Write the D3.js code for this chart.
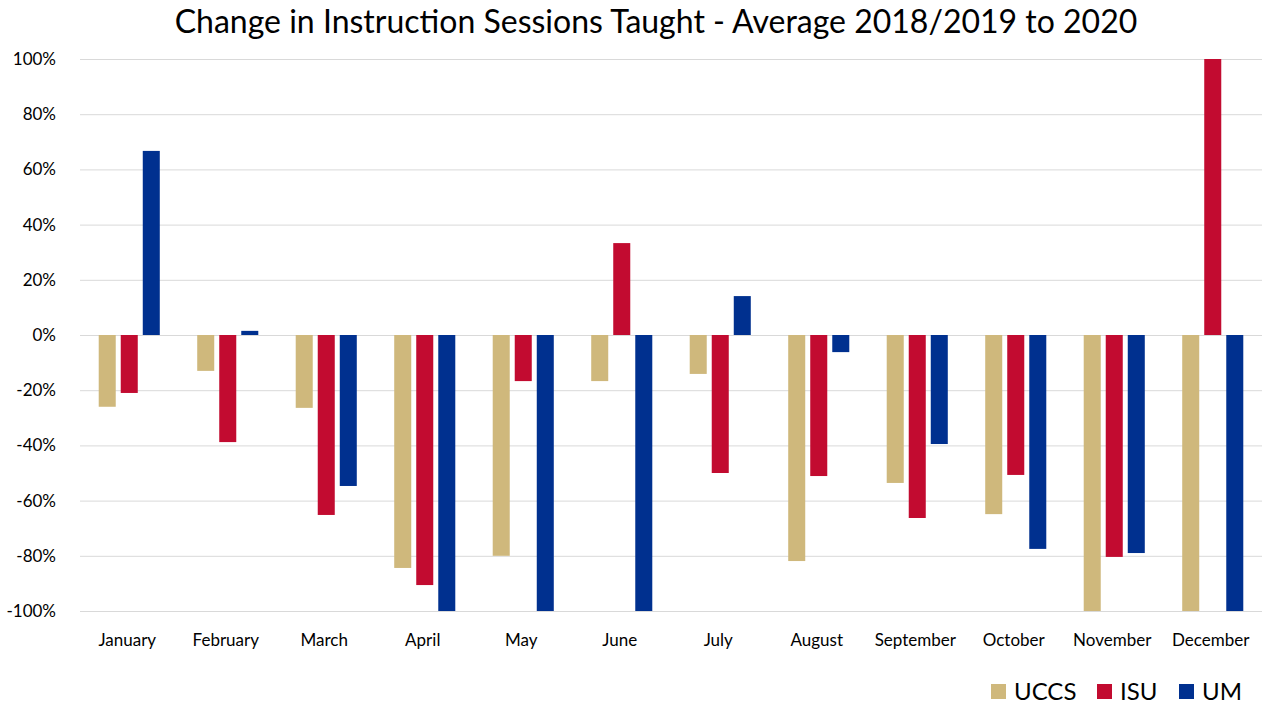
<!DOCTYPE html>
<html>
<head>
<meta charset="utf-8">
<title>Change in Instruction Sessions Taught</title>
<script src="https://d3js.org/d3.v7.min.js"></script>
<style>
  body { margin: 0; background: #fff; }
  svg text { font-family: Lato, "Open Sans", sans-serif; fill: #000; }
  .tick text { font-size: 17px; fill: #000; }
  .grid line { stroke: #d9d9d9; stroke-width: 1px; }
</style>
</head>
<body>
<svg id="chart" width="1266" height="704"></svg>
<script>
var months = ["January","February","March","April","May","June","July","August","September","October","November","December"];
var seriesNames = ["UCCS","ISU","UM"];
var uccs = [-26, -13, -26.4, -84.4, -80, -16.7, -14.1, -81.9, -53.6, -64.9, -100, -100];
var isu  = [-21, -38.8, -65.2, -90.6, -16.7, 33.3, -50, -51.1, -66.3, -50.7, -80.4, 100];
var um   = [66.7, 1.5, -54.7, -100, -100, -100, 14.1, -6.2, -39.5, -77.5, -79, -100];
var yTicks = [100, 80, 60, 40, 20, 0, -20, -40, -60, -80, -100];
var colors = ["#cfb87c", "#c20b30", "#00308f"];

var svg = d3.select("#chart");
var plotLeft = 80, plotRight = 1262, plotTop = 59, plotBottom = 611;

var x = d3.scaleBand().domain(months).range([plotLeft, plotRight]).paddingInner(0.38).paddingOuter(0.19);
var xs = d3.scaleBand().domain(seriesNames).range([0, x.bandwidth()]).paddingInner(5/22).paddingOuter(0);
var y = d3.scaleLinear().domain([-100, 100]).range([plotBottom, plotTop]);

// title
svg.append("text").attr("x", 656).attr("y", 33).attr("text-anchor", "middle")
  .style("font-size", "32px").text("Change in Instruction Sessions Taught - Average 2018/2019 to 2020");

// gridlines
svg.append("g").attr("class", "grid").selectAll("line").data(yTicks).enter().append("line")
  .attr("x1", plotLeft).attr("x2", plotRight)
  .attr("y1", function(d){ return y(d) + 0.5; }).attr("y2", function(d){ return y(d) + 0.5; });

// y axis labels
var yAxis = svg.append("g").attr("transform", "translate(" + (plotLeft - 24) + ",0)")
  .call(d3.axisLeft(y).tickValues(yTicks).tickSize(0).tickPadding(0).tickFormat(function(d){ return d + "%"; }));
yAxis.select(".domain").remove();

// x axis labels
var xAxis = svg.append("g").attr("transform", "translate(0," + (plotBottom + 23) + ")")
  .call(d3.axisBottom(x).tickSize(0).tickPadding(0));
xAxis.select(".domain").remove();
xAxis.selectAll(".tick text").attr("dx", "-2");

var rows = months.map(function(m, i){ return {month: m, values: [uccs[i], isu[i], um[i]]}; });

var groups = svg.append("g").selectAll("g").data(rows).enter().append("g")
  .attr("transform", function(d){ return "translate(" + x(d.month) + ",0)"; });

groups.selectAll("rect").data(function(d){
    return d.values.map(function(v, j){ return {name: seriesNames[j], value: v, color: colors[j]}; });
  }).enter().append("rect")
  .attr("x", function(d){ return xs(d.name); })
  .attr("width", xs.bandwidth())
  .attr("y", function(d){ return y(Math.max(0, d.value)); })
  .attr("height", function(d){ return Math.abs(y(d.value) - y(0)); })
  .style("fill", function(d){ return d.color; });

// legend
var legendX = [991, 1097, 1179];
var legend = svg.append("g").selectAll("g").data(seriesNames).enter().append("g")
  .attr("transform", function(d, i){ return "translate(" + legendX[i] + ",684)"; });
legend.append("rect").attr("width", 15).attr("height", 15).style("fill", function(d, i){ return colors[i]; });
legend.append("text").attr("x", 23).attr("y", 16).style("font-size", "24px").text(function(d){ return d; });
</script>
</body>
</html>
